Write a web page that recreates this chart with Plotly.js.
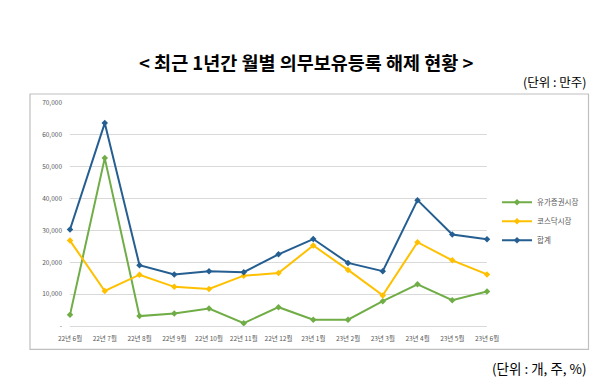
<!DOCTYPE html>
<html>
<head>
<meta charset="utf-8">
<script src="https://cdn.plot.ly/plotly-3.0.1.min.js"></script>
<style>html,body{margin:0;padding:0;background:#fff;}#chart{width:600px;height:380px;}</style>
</head>
<body>
<div id="chart"></div>
<script>
const categories = ["22년 6월","22년 7월","22년 8월","22년 9월","22년 10월","22년 11월","22년 12월","23년 1월","23년 2월","23년 3월","23년 4월","23년 5월","23년 6월"];
const kospi = [3500, 52700, 3100, 3900, 5500, 900, 5900, 2000, 2000, 7800, 13100, 8100, 10800];
const kosdaq = [26800, 11000, 16100, 12300, 11600, 15800, 16600, 25300, 17600, 9600, 26300, 20600, 16200];
const total = [30300, 63700, 19100, 16200, 17200, 16900, 22500, 27300, 19800, 17200, 39500, 28700, 27200];
const seriesNames = ["유가증권시장", "코스닥시장", "합계"];
const yTickVals = [0, 10000, 20000, 30000, 40000, 50000, 60000, 70000];
const yTickText = ["-", "10,000", "20,000", "30,000", "40,000", "50,000", "60,000", "70,000"];
const titleText = "< 최근 1년간 월별 의무보유등록 해제 현황 >";
const unitTop = "(단위 : 만주)";
const unitBottom = "(단위 : 개, 주, %)";

// plot area in pixels
const L = 70, R = 487, T = 103, B = 325.7, W = 600, H = 380;
const px = x => (x - L) / (R - L);
const py = y => (B - y) / (B - T);

const font = "'Noto Sans CJK KR', 'Noto Sans', sans-serif";
const colors = ["#70AD47", "#FFC000", "#255E91"];
const data = [kospi, kosdaq, total].map((v, i) => ({
  type: "scatter", mode: "lines+markers", x: categories, y: v, name: seriesNames[i],
  line: {color: colors[i], width: 2}, marker: {color: colors[i], size: 5, symbol: "diamond"},
  cliponaxis: false
}));

const layout = {
  width: W, height: H,
  margin: {l: L, r: W - R, t: T, b: H - B, pad: 0},
  paper_bgcolor: "#fff", plot_bgcolor: "#fff",
  font: {family: font, color: "#595959"},
  showlegend: true,
  legend: {x: px(497), y: py(221), xanchor: "left", yanchor: "middle", font: {size: 7.5, color: "#595959"}, tracegroupgap: 0, bgcolor: "rgba(0,0,0,0)"},
  xaxis: {type: "category", range: [0, 12], showgrid: false, zeroline: false, showline: true, linecolor: "#D9D9D9", linewidth: 1, ticks: "", tickfont: {size: 6.5, color: "#595959"}, tickangle: 0, ticklabelstandoff: 6, automargin: false},
  yaxis: {range: [0, 70000], tickvals: yTickVals, ticktext: yTickText, showgrid: true, gridcolor: "#D9D9D9", gridwidth: 1, zeroline: false, showline: false, ticks: "", tickfont: {size: 6.5, color: "#595959"}, ticklabelstandoff: 7, automargin: false},
  shapes: [
    {type: "rect", xref: "paper", yref: "paper", x0: px(30), x1: px(588.5), y0: py(349), y1: py(94), line: {color: "#BFBFBF", width: 1.2}, fillcolor: "rgba(0,0,0,0)", layer: "below"}
  ],
  annotations: [
    {text: "<b>" + titleText + "</b>", xref: "paper", yref: "paper", x: px(306.5), y: py(62), xanchor: "center", yanchor: "middle", showarrow: false, font: {family: font, size: 18.5, color: "#000"}},
    {text: unitTop, xref: "paper", yref: "paper", x: px(589), y: py(82), xanchor: "right", yanchor: "middle", showarrow: false, font: {family: font, size: 12.5, color: "#000"}},
    {text: unitBottom, xref: "paper", yref: "paper", x: px(589), y: py(368), xanchor: "right", yanchor: "middle", showarrow: false, font: {family: font, size: 13.5, color: "#000"}}
  ]
};
Plotly.newPlot("chart", data, layout, {staticPlot: true, displayModeBar: false});
</script>
</body>
</html>
